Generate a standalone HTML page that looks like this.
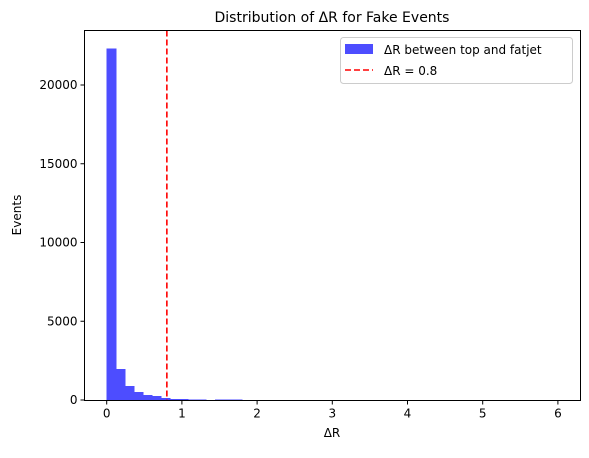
<!DOCTYPE html>
<html><head><meta charset="utf-8"><style>
body{margin:0;background:#fff;}
svg text{font-family:"DejaVu Sans","Liberation Sans",sans-serif;fill:#000;}
</style></head><body>
<svg width="589" height="453" viewBox="0 0 589 453" xmlns="http://www.w3.org/2000/svg">
<g id="bars" shape-rendering="crispEdges"></g>
<g id="axes"></g>
<text x="332" y="22" font-size="14" text-anchor="middle">Distribution of ΔR for Fake Events</text>
<text x="332" y="437" font-size="12" text-anchor="middle">ΔR</text>
<text transform="translate(21,215) rotate(-90)" font-size="12" text-anchor="middle">Events</text>
<g>
<rect x="340.5" y="37.5" width="232" height="46" rx="3" fill="#fff" stroke="#ccc"/>
<rect x="345" y="44" width="28" height="10" fill="#4d4dff"/>
<text x="384" y="54" font-size="12">ΔR between top and fatjet</text>
<line x1="345" y1="70" x2="373" y2="70" stroke="#f00" stroke-width="1.6" stroke-dasharray="6,3"/>
<text x="384" y="75" font-size="12">ΔR = 0.8</text>
</g>
</svg>
<script>
const binWidth = 0.12;
const counts = [22330,1970,890,510,320,250,130,55,50,45,40,0,45,40,35];
const xTicks = [0,1,2,3,4,5,6];
const yTicks = [0,5000,10000,15000,20000];
const threshold = [0.8];
const L=84.5,R=580.5,T=30.5,B=400.5;
const xs=v=>106.7+v*75.2, ys=v=>400-v*0.01575;
const NS="http://www.w3.org/2000/svg";
const bars=document.getElementById('bars'), axes=document.getElementById('axes');
function mk(tag,attrs,parent){const e=document.createElementNS(NS,tag);for(const k in attrs)e.setAttribute(k,attrs[k]);parent.appendChild(e);return e;}
counts.forEach((c,i)=>{ if(c<=0)return;
 const x0=xs(i*binWidth),x1=xs((i+1)*binWidth),y=ys(c);
 const r=mk('rect',{x:x0,y:y,width:x1-x0+0.6,height:400-y,fill:'#4d4dff'},bars);
 
 
});
threshold.forEach(t=>{
 const l=mk('line',{x1:xs(t),x2:xs(t),y1:T,y2:B,stroke:'#f00','stroke-width':1.6,'stroke-dasharray':'6,3'},axes);
 
 
});
const f=mk('rect',{x:L,y:T,width:R-L,height:B-T,fill:'none',stroke:'#000','stroke-width':1},axes);


xTicks.forEach(t=>{const x=xs(t);
 mk('line',{x1:x,x2:x,y1:B,y2:B+4,stroke:'#000'},axes);
 const tx=mk('text',{x:x,y:B+17,'font-size':12,'text-anchor':'middle'},axes);tx.textContent=t;
 
 
});
yTicks.forEach(t=>{const y=ys(t);
 mk('line',{x1:L-4,x2:L,y1:y,y2:y,stroke:'#000'},axes);
 const tx=mk('text',{x:L-7,y:y+4,'font-size':12,'text-anchor':'end'},axes);tx.textContent=t;
 
 
});
</script>
</body></html>
